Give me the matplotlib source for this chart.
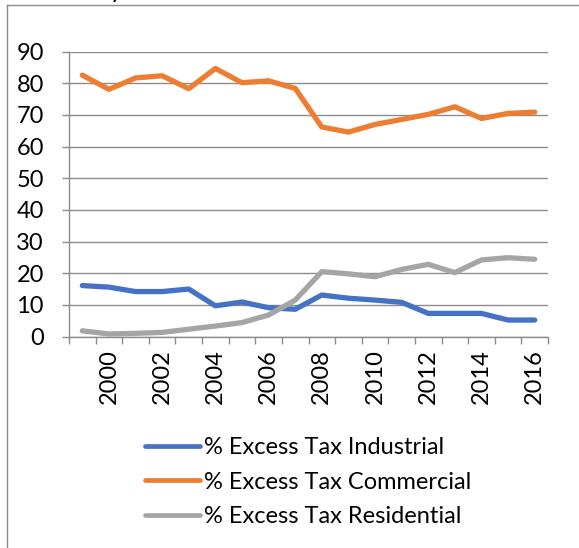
import matplotlib
matplotlib.use("Agg")
import matplotlib.pyplot as plt
from matplotlib.lines import Line2D

years = list(range(1999, 2017))
industrial = [16.1, 15.6, 14.2, 14.2, 15.0, 9.7, 10.9, 9.1, 8.6, 13.1, 12.1, 11.5, 10.8, 7.3, 7.3, 7.3, 5.2, 5.2]
commercial = [82.6, 78.1, 81.7, 82.4, 78.3, 84.7, 80.2, 80.8, 78.4, 66.2, 64.6, 67.0, 68.6, 70.2, 72.6, 68.9, 70.5, 70.9]
residential = [1.8, 0.8, 1.0, 1.3, 2.3, 3.3, 4.4, 6.8, 11.5, 20.5, 19.8, 18.9, 21.2, 22.8, 20.2, 24.2, 24.9, 24.4]
series_names = ["% Excess Tax Industrial", "% Excess Tax Commercial", "% Excess Tax Residential"]
colors = ["#4472C4", "#ED7D31", "#A5A5A5"]
y_ticks = list(range(0, 100, 10))
label_years = [y for y in years if y % 2 == 0]

plt.rcParams['font.family'] = ['Lato', 'DejaVu Sans']
W, H = 579, 548
fig = plt.figure(figsize=(W / 100, H / 100), dpi=100)

left, right, top, bottom = 69, 548, 51.7, 336.5
ax = fig.add_axes([left / W, 1 - bottom / H, (right - left) / W, (bottom - top) / H])

x = list(range(len(years)))
for vals, c, name in zip([industrial, commercial, residential], colors, series_names):
    ax.plot(x, vals, color=c, lw=3.8, solid_joinstyle='round', solid_capstyle='round', label=name, zorder=3)

ax.set_xlim(-0.5, len(years) - 0.5)
ax.set_ylim(0, 90)
ax.set_yticks(y_ticks)
ax.yaxis.grid(True, color='#8c8c8c', lw=1)
ax.set_axisbelow(True)
for s in ['top', 'right']:
    ax.spines[s].set_visible(False)
for s in ['left', 'bottom']:
    ax.spines[s].set_color('#8c8c8c')
    ax.spines[s].set_linewidth(1)

ax.set_xticks([i - 0.5 for i in range(len(years) + 1)])
ax.set_xticklabels([])
ax.set_xticks([years.index(y) for y in label_years], minor=True)
ax.set_xticklabels([str(y) for y in label_years], minor=True, rotation=90)
ax.tick_params(axis='x', which='major', length=5, color='#8c8c8c', width=1, direction='out')
ax.tick_params(axis='x', which='minor', length=0, pad=9, labelsize=17)
ax.tick_params(axis='y', length=5, color='#8c8c8c', width=1, pad=13, labelsize=17)

handles = [Line2D([0], [0], color=c, lw=3.4, solid_capstyle='round') for c in colors]
fig.legend(handles, series_names, loc='upper left', bbox_to_anchor=(145 / W, 1 - 437 / H),
           frameon=False, fontsize=17, handlelength=2.35, handletextpad=0.17, labelspacing=0.58,
           borderpad=0, borderaxespad=0)

# outer chart frame (partly cropped)
fig.add_artist(Line2D([7.5 / W, 7.5 / W], [0, 1 - 4.5 / H], color='#8c8c8c', lw=1, transform=fig.transFigure))
fig.add_artist(Line2D([7.5 / W, 1], [1 - 4.5 / H, 1 - 4.5 / H], color='#8c8c8c', lw=1, transform=fig.transFigure))
# cropped title remnant
fig.text(110 / W, 1 + 1.5 / H, "y", fontsize=18, va='baseline', ha='left')

fig.savefig("out.png", dpi=100)
